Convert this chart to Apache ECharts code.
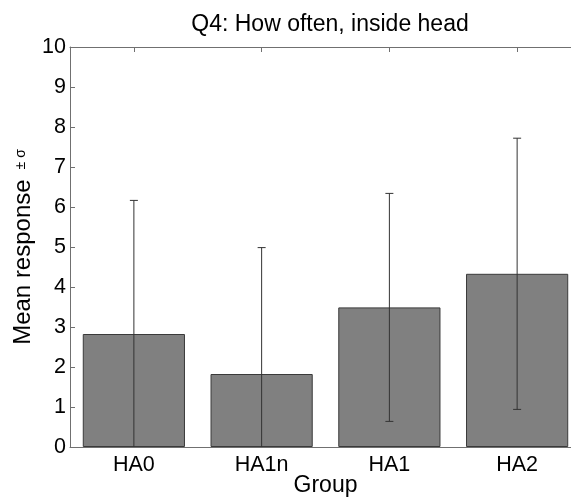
<!DOCTYPE html>
<html>
<head>
<meta charset="utf-8">
<script src="https://cdn.jsdelivr.net/npm/echarts@6/dist/echarts.min.js"></script>
<style>
  html, body { margin: 0; padding: 0; background: #fff; }
  #chart { width: 571px; height: 501px; }
</style>
</head>
<body>
<div id="chart"></div>
<script>
// Group means and standard deviations for Q4
const groups = ['HA0', 'HA1n', 'HA1', 'HA2'];
const means = [2.825, 1.825, 3.49, 4.33];
const sigmas = [3.34, 3.16, 2.85, 3.39];
const yTicks = [0, 1, 2, 3, 4, 5, 6, 7, 8, 9, 10];

const font = 'Liberation Sans, Arial, sans-serif';
const axisColor = '#707070';

const errorData = groups.map((g, i) => [i, means[i] - sigmas[i], means[i] + sigmas[i]]);

const chart = echarts.init(document.getElementById('chart'));
chart.setOption({
  animation: false,
  backgroundColor: '#ffffff',
  title: {
    text: 'Q4: How often, inside head',
    left: 325,
    textAlign: 'center',
    top: 8,
    textStyle: { fontFamily: font, fontSize: 23, fontWeight: 'normal', color: '#000' }
  },
  grid: { left: 70, top: 47, width: 511, height: 400, outerBoundsMode: 'none', containLabel: false },
  xAxis: [
    {
      type: 'category',
      data: groups,
      position: 'bottom',
      name: 'Group',
      nameLocation: 'middle',
      nameMoveOverlap: false,
      nameGap: 27,
      nameTextStyle: { fontFamily: font, fontSize: 23, color: '#000' },
      axisLine: { lineStyle: { color: axisColor, width: 1 } },
      axisTick: { show: false },
      axisLabel: { fontFamily: font, fontSize: 21.5, color: '#000', margin: 7 }
    },
    {
      type: 'category',
      data: groups,
      position: 'top',
      axisLine: { lineStyle: { color: axisColor, width: 1 } },
      axisTick: { show: true, inside: true, length: 5, alignWithLabel: true, lineStyle: { color: axisColor } },
      axisLabel: { show: false }
    }
  ],
  yAxis: {
    type: 'value',
    min: 0,
    max: 10,
    interval: 1,
    name: '{a|Mean response}   {b|± σ}',
    nameLocation: 'middle',
    nameMoveOverlap: false,
    nameGap: 35,
    nameRotate: 90,
    nameTextStyle: {
      rich: {
        a: { fontFamily: font, fontSize: 24, color: '#000' },
        b: { fontFamily: font, fontSize: 14, color: '#000', padding: [0, 0, 4, 0] }
      }
    },
    axisLine: { show: true, lineStyle: { color: axisColor, width: 1 } },
    axisTick: { show: true, inside: true, length: 5, lineStyle: { color: axisColor } },
    splitLine: { show: false },
    axisLabel: {
      fontFamily: font, fontSize: 21.5, color: '#000', margin: 4,
      formatter: v => (yTicks.includes(v) ? String(v) : '')
    }
  },
  series: [
    {
      type: 'bar',
      data: means,
      barWidth: '80%',
      itemStyle: { color: '#808080', borderColor: '#3a3a3a', borderWidth: 1 },
      z: 2
    },
    {
      type: 'custom',
      data: errorData,
      z: 5,
      clip: true,
      renderItem: function (params, api) {
        const x = api.value(0);
        const lo = api.coord([x, api.value(1)]);
        const hi = api.coord([x, api.value(2)]);
        const cap = 4;
        const style = { stroke: '#333333', lineWidth: 1, fill: null };
        return {
          type: 'group',
          children: [
            { type: 'line', shape: { x1: lo[0], y1: lo[1], x2: hi[0], y2: hi[1] }, style },
            { type: 'line', shape: { x1: hi[0] - cap, y1: hi[1], x2: hi[0] + cap, y2: hi[1] }, style },
            { type: 'line', shape: { x1: lo[0] - cap, y1: lo[1], x2: lo[0] + cap, y2: lo[1] }, style }
          ]
        };
      }
    }
  ]
});
</script>
</body>
</html>
